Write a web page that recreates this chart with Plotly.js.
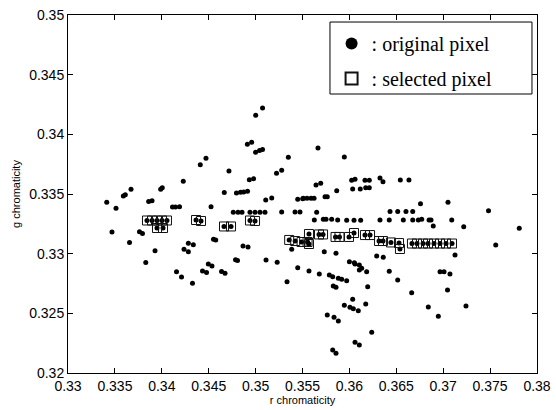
<!DOCTYPE html>
<html>
<head>
<meta charset="utf-8">
<script src="https://cdn.plot.ly/plotly-3.0.1.min.js"></script>
<style>html,body{margin:0;padding:0;background:#fff;}#chart{width:556px;height:410px;}</style>
</head>
<body>
<div id="chart"></div>
<script>
// r chromaticity of every original pixel
var origR = [0.35074,0.35001,0.34912,0.34958,0.35000,0.35042,0.35074,0.35349,0.34471,0.34410,
0.34716,0.35223,0.35278,0.34933,0.34979,0.34229,0.33672,0.33590,0.33611,0.34666,
0.34796,0.34839,0.34873,0.34914,0.33413,0.33512,0.33860,0.33896,0.33988,0.34005,
0.34114,0.34146,0.34189,0.34525,0.35108,0.35172,0.35449,0.35502,0.34762,0.34812,
0.34855,0.34940,0.34994,0.35047,0.35100,0.35278,0.35420,0.35473,0.35665,0.35946,
0.36024,0.36060,0.36166,0.36212,0.36326,0.36358,0.36543,0.36635,0.36035,0.36116,
0.36174,0.36212,0.35644,0.35694,0.35865,0.35740,0.35764,0.35509,0.35548,0.35591,
0.35623,0.35651,0.36433,0.36515,0.36603,0.36675,0.36758,0.37051,0.37483,0.35626,
0.35722,0.35751,0.35811,0.35875,0.35971,0.36049,0.36120,0.36326,0.36425,0.36575,
0.36675,0.36735,0.36771,0.36849,0.36870,0.37091,0.36894,0.37219,0.37811,0.33469,
0.33762,0.33794,0.33656,0.33928,0.33829,0.34157,0.34210,0.34327,0.34237,0.34283,
0.34283,0.34336,0.34434,0.34477,0.34496,0.34535,0.34637,0.34674,0.34786,0.34807,
0.34551,0.34575,0.34866,0.34919,0.35111,0.35230,0.35335,0.35449,0.35569,0.35385,
0.35732,0.35857,0.36291,0.36361,0.36000,0.36053,0.36060,0.36106,0.36131,0.36184,
0.36106,0.36425,0.35679,0.35786,0.35822,0.35882,0.35918,0.35971,0.35828,0.35857,
0.36195,0.36515,0.36664,0.36035,0.36174,0.35946,0.36006,0.36042,0.36095,0.35764,
0.35836,0.35882,0.36238,0.36060,0.36106,0.35822,0.35857,0.37126,0.36966,0.37009,
0.37072,0.37046,0.36841,0.36948,0.37243,0.37560];
// g chromaticity of every original pixel
var origG = [0.34221,0.34160,0.33917,0.33933,0.33849,0.33864,0.33872,0.33808,0.33799,0.33746,
0.33693,0.33673,0.33698,0.33619,0.33627,0.33606,0.33539,0.33483,0.33494,0.33513,
0.33508,0.33514,0.33517,0.33523,0.33430,0.33380,0.33437,0.33444,0.33539,0.33552,
0.33391,0.33391,0.33394,0.33394,0.33450,0.33466,0.33456,0.33461,0.33347,0.33347,
0.33347,0.33347,0.33347,0.33347,0.33347,0.33349,0.33349,0.33349,0.33885,0.33810,
0.33615,0.33623,0.33615,0.33615,0.33634,0.33603,0.33617,0.33617,0.33542,0.33542,
0.33553,0.33553,0.33575,0.33590,0.33528,0.33477,0.33477,0.33464,0.33464,0.33464,
0.33464,0.33347,0.33353,0.33353,0.33353,0.33353,0.33419,0.33430,0.33360,0.33282,
0.33288,0.33288,0.33288,0.33282,0.33280,0.33280,0.33280,0.33282,0.33282,0.33282,
0.33282,0.33282,0.33288,0.33282,0.33282,0.33282,0.33232,0.33226,0.33213,0.33182,
0.33184,0.33169,0.33094,0.33025,0.32926,0.32849,0.32804,0.32752,0.33037,0.33016,
0.33087,0.33075,0.32855,0.32842,0.32913,0.32897,0.32851,0.32835,0.32949,0.32943,
0.33121,0.33114,0.33064,0.33056,0.32947,0.32928,0.32765,0.32882,0.32855,0.33037,
0.33016,0.33003,0.32980,0.32970,0.32933,0.32924,0.32913,0.32905,0.32877,0.32849,
0.32863,0.32852,0.32830,0.32821,0.32807,0.32793,0.32785,0.32773,0.32729,0.32718,
0.32723,0.32779,0.32673,0.32618,0.32578,0.32567,0.32550,0.32539,0.32522,0.32486,
0.32467,0.32436,0.32341,0.32257,0.32235,0.32193,0.32165,0.32989,0.32849,0.32849,
0.32830,0.32696,0.32553,0.32476,0.32561,0.33073];
// selected pixels
var selR = [0.33842,0.33896,0.33949,0.34002,0.34055,0.33949,0.34013,0.34365,0.34418,0.34663,
0.34738,0.34940,0.34994,0.35358,0.35422,0.35490,0.35554,0.35569,0.35569,0.35676,
0.35719,0.35852,0.35894,0.35996,0.36049,0.36166,0.36220,0.36316,0.36358,0.36443,
0.36529,0.36539,0.36667,0.36721,0.36785,0.36838,0.36902,0.36966,0.37030,0.37094];
var selG = [0.33278,0.33278,0.33278,0.33278,0.33278,0.33215,0.33215,0.33282,0.33274,0.33228,
0.33228,0.33278,0.33274,0.33115,0.33106,0.33098,0.33098,0.33165,0.33081,0.33161,
0.33161,0.33140,0.33140,0.33140,0.33173,0.33156,0.33156,0.33106,0.33106,0.33094,
0.33089,0.33039,0.33085,0.33085,0.33085,0.33085,0.33085,0.33085,0.33085,0.33085];
var seriesNames = [': original pixel', ': selected pixel'];
var xTicks = [0.33,0.335,0.34,0.345,0.35,0.355,0.36,0.365,0.37,0.375,0.38];
var xTickText = ['0.33','0.335','0.34','0.345','0.35','0.355','0.36','0.365','0.37','0.375','0.38'];
var yTicks = [0.32,0.325,0.33,0.335,0.34,0.345,0.35];
var yTickText = ['0.32','0.325','0.33','0.335','0.34','0.345','0.35'];

var traces = [
  {
    x: origR.concat(selR), y: origG.concat(selG),
    type: 'scatter', mode: 'markers', name: seriesNames[0], legendgroup: 'a',
    marker: {symbol: 'circle', size: 5, color: '#000', line: {width: 0}}
  },
  {
    x: selR, y: selG,
    type: 'scatter', mode: 'markers', name: seriesNames[1], legendgroup: 'b',
    marker: {symbol: 'square-open', size: 9, color: '#111', line: {width: 1}}
  }
];

var axisCommon = {
  showgrid: false, zeroline: false, showline: true, linecolor: '#000', linewidth: 1,
  mirror: 'allticks', ticks: 'inside', ticklen: 5, tickcolor: '#000',
  tickfont: {family: 'Liberation Sans, Arial, sans-serif', size: 14, color: '#000'}
};

var layout = {
  width: 556, height: 410,
  margin: {l: 68, r: 19, t: 15, b: 37},
  paper_bgcolor: '#fff', plot_bgcolor: '#fff',
  showlegend: true,
  legend: {
    x: 0.562, y: 0.975, xanchor: 'left', yanchor: 'top',
    bgcolor: 'rgba(0,0,0,0)', borderwidth: 0,
    font: {family: 'Liberation Serif, Times New Roman, serif', size: 20, color: '#000'},
    itemsizing: 'constant', tracegroupgap: 6, traceorder: 'grouped'
  },
  shapes: [{
    type: 'rect', xref: 'paper', yref: 'paper',
    x0: 0.5586, x1: 0.9893, y0: 0.7793, y1: 0.9804,
    line: {color: '#000', width: 1}, fillcolor: 'rgba(0,0,0,0)', layer: 'above'
  }],
  xaxis: Object.assign({}, axisCommon, {
    range: [0.33, 0.38], tickvals: xTicks, ticktext: xTickText,
    title: {text: 'r chromaticity', standoff: 3, font: {family: 'Liberation Sans, Arial, sans-serif', size: 11, color: '#000'}}
  }),
  yaxis: Object.assign({}, axisCommon, {
    range: [0.32, 0.35], tickvals: yTicks, ticktext: yTickText,
    title: {text: 'g chromaticity', standoff: 6, font: {family: 'Liberation Sans, Arial, sans-serif', size: 11, color: '#000'}}
  })
};

Plotly.newPlot('chart', traces, layout, {displayModeBar: false, staticPlot: true});
</script>
</body>
</html>
